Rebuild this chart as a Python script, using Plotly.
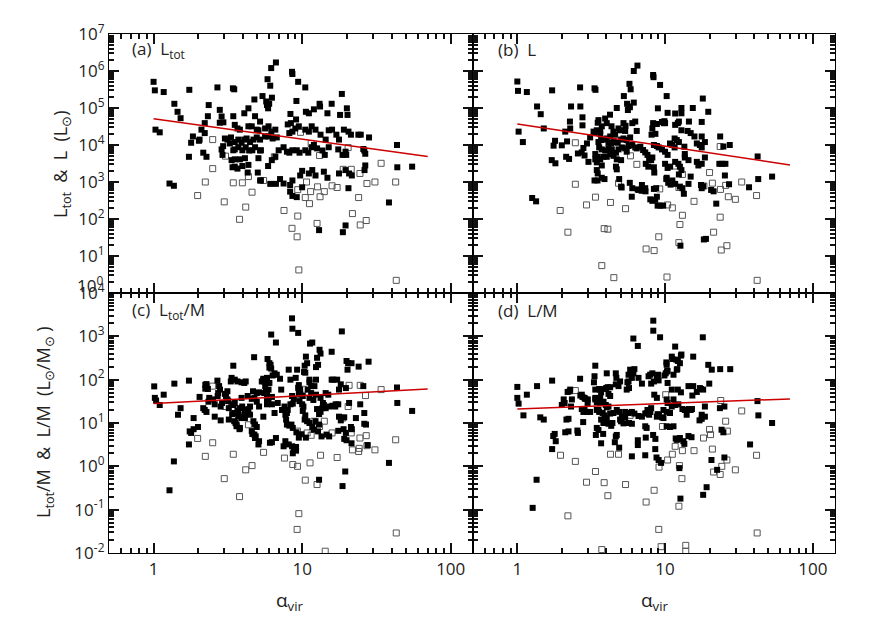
import plotly.graph_objects as go

# ---------------- values ----------------
# (alpha_vir, value) pairs; filled = black squares, open = hollow squares

a_filled = [
    (1.0, 5.1e5), (1.02, 3.0e5), (1.17, 2.7e5), (1.03, 2.6e4), (1.1, 2.2e4), (1.38, 1.3e5), (1.45, 7.9e4),
    (1.52, 5.3e4), (1.28, 910), (1.37, 790), (1.74, 3.1e5), (1.73, 4800), (2.02, 1.3e4), (2.16, 6200),
    (2.27, 4800), (2.69, 3.6e5), (2.91, 5400), (3.42, 3.4e5), (3.49, 3.2e5), (4.3, 1800), (5.85, 6.0e5),
    (6.1, 4.0e5), (6.19, 1.2e6), (6.66, 1.7e6), (6.26, 1.9e5), (7.5, 910), (8.55, 9.5e5), (8.6, 8.3e5),
    (9.4, 5.1e5), (10.5, 3.6e5), (10.6, 7.9e4), (13.2, 1.1e5), (13.0, 50), (18.5, 2.4e5), (18.0, 6.5e4),
    (18.8, 44), (19.6, 67), (20.5, 680), (21.6, 1500), (23.9, 1.9e4), (24.8, 1.9e4), (25.8, 7800),
    (26.2, 7100), (26.6, 5800), (28.2, 1.6e4), (26.6, 2800), (26.3, 2100), (38.4, 280), (43.5, 1.0e4),
    (43.7, 2500), (55, 2600),
    (2.35, 1.2e5), (2.79, 8.9e4), (2.87, 5.9e4), (2.32, 6.0e4), (4.77, 1.7e5), (5.41, 2.1e5), (5.73, 1.5e5),
    (5.8, 1.2e5), (6.0, 1.3e5), (5.9, 9.8e4), (9.15, 1.55e5), (8.34, 6.9e4), (13.1, 1.3e5), (15.8, 1.3e5),
    (20, 9.8e4), (14.8, 7.2e4), (11.1, 7.2e4), (12, 9.2e4), (20.2, 6.5e4), (9.1, 4.9e4), (8.0, 3.6e4),
    (8.4, 3.9e4), (2.21, 3.9e4), (2.79, 4.0e4), (2.95, 4.1e4), (3.44, 6.0e4), (4.08, 7.2e4), (4.35, 9.8e4),
    (4.82, 6.0e4), (5.21, 4.3e4), (3.52, 3.5e4), (3.67, 2.8e4), (3.81, 2.6e4), (4.35, 3.2e4), (4.58, 3.2e4),
    (4.95, 2.6e4), (5.08, 2.5e4), (5.63, 2.8e4), (5.94, 3.2e4), (6.2, 2.3e4), (6.6, 2.6e4), (2.1, 2.6e4),
    (2.21, 2.1e4), (1.84, 1.7e4), (2.04, 1.4e4), (1.79, 1.15e4), (3.02, 1.5e4), (3.14, 1.4e4), (3.32, 1.6e4),
    (3.26, 1.1e4), (3.52, 1.2e4), (3.72, 1.4e4), (3.91, 1.15e4), (4.08, 1.4e4), (4.23, 1.5e4), (4.46, 1.2e4),
    (4.7, 1.4e4), (4.95, 1.6e4), (5.21, 1.4e4), (5.63, 1.7e4), (5.94, 1.7e4), (6.33, 1.5e4), (6.75, 1.6e4),
    (8.2, 2.1e4), (8.6, 2.3e4), (9.0, 2.8e4), (9.5, 3.2e4), (10.5, 2.6e4), (11.1, 2.3e4), (11.6, 3.2e4),
    (12.3, 2.6e4), (13.3, 1.9e4), (14.4, 1.4e4), (15.1, 2.5e4), (15.9, 2.6e4), (17, 1.9e4), (17.7, 1.4e4),
    (19.1, 2.6e4), (20.5, 2.3e4), (21.3, 1.9e4), (3.44, 7200), (3.52, 7600), (3.72, 8700), (3.96, 7200),
    (4.17, 8700), (4.4, 7100), (4.62, 7200), (4.82, 8700), (5.21, 7100), (2.94, 9300), (2.87, 7600),
    (5.28, 7200), (6.95, 7200), (7.5, 8700), (7.9, 6600), (8.2, 6200), (8.6, 7200), (9.2, 7200), (9.6, 6200),
    (10.5, 7200), (11, 6200), (11.6, 8700), (12, 1.0e4), (12.6, 8100), (13.7, 7100), (14.2, 5400),
    (15.1, 8700), (17.5, 7600), (18.7, 5400), (19.6, 6600), (19.8, 5400), (3.35, 3900), (3.52, 4100),
    (3.81, 4100), (4.12, 4400), (5.08, 4400), (5.9, 2700), (6.25, 3900), (6.6, 4800), (3.4, 2500),
    (3.52, 2600), (3.67, 2300), (3.96, 2700), (4.35, 2900), (5.03, 1800), (5.21, 1100), (5.28, 1100),
    (6.1, 890), (6.66, 890), (7.1, 1200), (8.3, 830), (8.6, 1100), (9.7, 1500), (10, 2000), (11.1, 1700),
    (11.7, 2100), (12.3, 1500), (14, 1900), (14.8, 1300), (17.7, 1700), (19.6, 2100), (20.7, 1700),
    (8.3, 550), (8.6, 420), (9.2, 390), (10, 720),
]
a_open = [
    (1.98, 430), (2.23, 1000), (2.5, 2300), (2.5, 1.4e4), (2.99, 290), (3.05, 5000), (3.44, 950), (3.79, 98),
    (3.96, 950), (4.17, 210), (4.35, 1400), (4.6, 530), (5.5, 1100), (6.5, 4800), (7.55, 170), (8.55, 56),
    (9.25, 33), (9.34, 120), (9.34, 620), (9.5, 4.2), (9.75, 2.2e4), (10.5, 380), (10.7, 1000), (11.4, 550),
    (11.2, 260), (11.5, 1.1e4), (12.6, 76), (12.7, 740), (13.1, 5200), (13.2, 400), (14.1, 550), (15.9, 790),
    (17.2, 710), (18.9, 2200), (20.4, 8500), (21.4, 2200), (21.8, 140), (24, 380), (24.5, 1700), (24.6, 69),
    (27, 91), (27.3, 910), (30.9, 1000), (34, 3200), (42.6, 1000), (43, 2.2),
]

b_filled = [
    (1.0, 5.2e5), (1.01, 2.9e5), (1.16, 2.7e5), (1.02, 2.3e4), (1.09, 1.2e4), (1.36, 1.1e5), (1.44, 6.8e4),
    (1.51, 2.8e4), (1.26, 370), (1.34, 300), (1.72, 3.0e5), (1.71, 3900), (1.76, 9600), (1.81, 3200),
    (1.80, 1.3e4), (2.0, 9800), (2.14, 4800), (2.24, 4200), (2.11, 2.3e4), (2.27, 4.3e4), (2.31, 1.1e5),
    (2.57, 5900), (2.66, 3.6e5), (2.67, 1.1e5), (2.76, 5.6e4), (2.76, 3.4e4), (2.85, 5200), (2.96, 1.1e4),
    (3.03, 3500), (3.33, 3.4e5), (3.38, 3.1e5), (3.33, 1100), (3.49, 1100), (3.5, 4.0e4), (3.73, 3.2e4),
    (3.93, 5.2e4), (4.24, 6.6e4), (4.34, 3.2e4), (4.71, 1.0e5), (4.89, 1200), (5.08, 710), (5.26, 2.1e5),
    (5.53, 1.3e5), (5.68, 1.1e5), (5.74, 4.5e5), (5.85, 3.2e5), (6.14, 1.0e6), (6.5, 1.4e6), (6.14, 1.4e5),
    (5.77, 950), (5.95, 400), (6.53, 630), (6.95, 580), (7.37, 560), (7.94, 340), (8.2, 310), (8.3, 7.8e5),
    (8.35, 6.8e5), (8.9, 230), (9.3, 230), (9.7, 230), (9.25, 4.2e5), (8.94, 9.8e4), (8.45, 1800), (8.7, 680),
    (10.25, 2.1e5), (10.4, 7.4e4), (10.2, 1200), (10.5, 950), (10.9, 850), (11.7, 7.1e4), (12.4, 4.3e4),
    (12.9, 1.0e5), (12.7, 19), (13.4, 480), (12.4, 1600), (13.6, 4600), (15.4, 1.0e5), (18.0, 1.8e5),
    (19.6, 7.9e4), (18.3, 28), (18.9, 29), (17.5, 830), (18.6, 4600), (20.5, 610), (21.3, 560), (22.2, 260),
    (23.6, 1.7e4), (24.8, 9100), (25.4, 1500), (23.3, 3100), (24.3, 3100), (25.6, 3100), (27.1, 870),
    (27.4, 1.0e4), (37, 720), (42.3, 4900), (42.7, 1200), (53, 1400),
    (2.28, 2.8e4), (2.17, 1.25e4), (2.73, 6300), (2.8, 8300), (3.11, 1.6e4), (3.28, 2.3e4), (3.45, 2.5e4),
    (3.64, 2.4e4), (3.54, 4.7e4), (4.03, 3.9e4), (5.6, 8.8e4), (5.78, 1.05e5), (12.9, 7.2e4), (17.7, 4.2e4),
    (9.52, 4.2e4), (9.8, 3.9e4), (8.3, 3.9e4), (8.8, 3.7e4), (8.2, 2.8e4), (8.6, 2.0e4), (8.1, 1.9e4),
    (6.28, 4.3e4), (6.0, 3.9e4), (5.23, 3.9e4), (5.4, 3.3e4), (4.84, 2.8e4), (4.96, 2.5e4), (6.43, 2.4e4),
    (5.37, 2.4e4), (4.59, 1.9e4), (4.47, 2.3e4), (4.25, 1.7e4), (4.03, 1.5e4), (3.64, 2.0e4), (3.33, 2.1e4),
    (3.54, 1.2e4), (3.69, 1.36e4), (3.89, 1.4e4), (4.14, 1.15e4), (4.32, 1.1e4), (4.5, 1.2e4), (4.78, 1.15e4),
    (5.04, 1.4e4), (5.23, 1.5e4), (5.5, 1.36e4), (5.8, 1.6e4), (3.58, 8600), (3.73, 7600), (3.93, 7100),
    (4.14, 8100), (4.36, 7600), (4.65, 6200), (4.84, 7600), (5.1, 8600), (5.37, 8100), (5.66, 9400),
    (6.0, 1.0e4), (6.28, 8600), (3.37, 5700), (3.5, 4800), (3.64, 4100), (3.83, 4800), (4.03, 4800),
    (4.25, 5700), (4.47, 5100), (4.71, 4100), (5.04, 3900), (3.37, 4100), (3.45, 3400), (3.73, 2800),
    (4.65, 2600), (5.5, 6600), (6.43, 8100), (6.8, 9000), (7.1, 7300), (7.34, 6300), (7.6, 5400), (7.8, 4400),
    (8.05, 3900), (8.2, 4600), (9.04, 8600), (9.52, 7600), (10.0, 6600), (10.4, 5400), (10.8, 1.1e4),
    (11.2, 1.0e4), (11.6, 8600), (12.0, 1.36e4), (12.4, 1.2e4), (11.6, 1.5e4), (8.4, 1.0e4), (8.8, 9400),
    (9.9, 4.4e4), (10.0, 3.9e4), (11.7, 3.5e4), (12.2, 3.9e4), (12.9, 2.5e4), (14.5, 4.3e4), (14.2, 2.4e4),
    (14.9, 2.1e4), (15.8, 1.7e4), (16.4, 1.1e4), (17.7, 1.7e4), (17.2, 1.0e4), (17.7, 8600), (18.6, 1.2e4),
    (13.5, 9000), (13.6, 5700), (14.4, 3900), (16.4, 3500), (16.8, 2800), (17.7, 3100), (11.7, 3500),
    (12.3, 3100), (12.6, 2600), (12.9, 2100), (10.0, 3100), (10.4, 2400), (10.8, 2600), (7.4, 3100),
    (7.7, 2600), (8.4, 2500), (4.71, 2200), (3.45, 2100), (3.5, 1700), (3.73, 1300), (3.89, 1200), (5.04, 750),
    (6.0, 680), (6.97, 830), (7.34, 680), (8.4, 650), (8.8, 400), (6.61, 610), (10.25, 1300), (10.8, 1000),
    (11.2, 1100), (11.7, 890), (12.6, 750), (13.1, 680), (14.4, 890), (17.7, 680), (18.1, 770), (14.9, 1400),
    (8.58, 330),
]
b_open = [
    (2.47, 1.15e4), (2.47, 870), (1.95, 170), (2.2, 44), (2.94, 240), (3.38, 390), (3.73, 5.5), (3.87, 55),
    (4.1, 53), (4.27, 280), (4.5, 2.6), (4.84, 930), (5.4, 190), (5.83, 5100), (6.44, 3000), (7.44, 15.5),
    (8.43, 14), (9.2, 650), (9.06, 33), (10.3, 2.7), (10.4, 240), (11.2, 200), (11.8, 2700), (12.4, 710),
    (12.6, 71), (12.4, 23), (13.1, 126), (13.1, 1600), (15.7, 300), (18.3, 780), (20, 1800), (20.9, 930),
    (21.3, 44), (23.6, 9100), (23.6, 112), (24, 14.5), (23.7, 630), (25.7, 810), (26.2, 19), (26.8, 400),
    (29.9, 340), (33, 1000), (41.6, 430), (42, 2.2),
]

c_filled = [
    (1.01, 70), (1.02, 38), (1.04, 33), (1.1, 26), (1.17, 45), (1.38, 81), (1.46, 15.5), (1.52, 22),
    (1.28, 0.28), (1.37, 1.3), (1.73, 95), (1.73, 3.2), (1.79, 5.9), (1.86, 13), (1.86, 7.2), (1.99, 8.1),
    (2.04, 40), (2.16, 22), (2.23, 76), (2.23, 62), (2.27, 18), (2.37, 38), (2.34, 31), (2.58, 14), (2.69, 95),
    (2.7, 42), (2.76, 71), (2.8, 59), (2.83, 24), (2.89, 29), (3.02, 47), (3.07, 42), (3.14, 54), (3.21, 12),
    (3.31, 91), (3.35, 110), (3.44, 210), (3.46, 26), (3.49, 17), (3.56, 10), (3.62, 8.4), (3.71, 17),
    (3.79, 7.2), (3.91, 38), (4.08, 15.5), (4.12, 13), (4.08, 84), (4.25, 20), (4.3, 42), (4.46, 15.5),
    (4.58, 6.5), (4.62, 5.6), (4.67, 54), (4.75, 330), (4.82, 4.5), (5.08, 3.2), (4.95, 31), (5.13, 24),
    (5.48, 105), (5.56, 91), (5.64, 71), (5.7, 54), (5.8, 35), (5.8, 27), (5.85, 300), (6.02, 190),
    (6.13, 220), (6.07, 3.5), (6.26, 27), (6.19, 1100), (6.66, 720), (6.33, 125), (6.52, 140), (6.52, 17),
    (6.66, 4.5), (6.85, 29), (7.1, 105), (7.23, 59), (7.5, 2.9), (7.71, 15.5), (7.8, 12), (8.0, 20),
    (8.12, 170), (8.34, 100), (8.47, 9.2), (8.65, 7.7), (8.56, 2.9), (8.65, 2.0), (8.55, 2600), (8.6, 1500),
    (9.25, 170), (9.1, 2.3), (9.15, 6.1), (9.4, 1200), (9.5, 75), (9.7, 59), (9.6, 32), (10.0, 27),
    (10.1, 42), (10.2, 24), (10.4, 210), (10.5, 145), (10.6, 340), (10.9, 59), (11.3, 680), (11.7, 720),
    (11.2, 100), (11.5, 49), (12.3, 11), (13.0, 9.2), (12.1, 71), (12.4, 100), (12.6, 320), (13.1, 490),
    (13.3, 400), (13.0, 0.49), (13.3, 38), (13.7, 22), (13.8, 29), (14.4, 49), (15.0, 45), (15.2, 24),
    (15.8, 440), (16.2, 100), (16.7, 24), (17.5, 27), (18.5, 1300), (17.5, 6.6), (17.7, 59), (18.7, 0.35),
    (19.5, 0.76), (19.7, 64), (20.2, 170), (20.7, 29), (21.3, 8.1), (21.5, 240), (19.9, 270), (21.5, 3.4),
    (21.6, 7.2), (23, 13), (24, 200), (24.6, 27), (25.8, 71), (26.2, 17), (26.2, 9.6), (26.9, 9.2),
    (27.6, 3.1), (28, 260), (38.4, 1.2), (43.5, 66), (43.7, 29), (55, 19),
    (3.52, 100), (3.67, 91), (3.91, 87), (4.17, 91), (2.27, 79), (2.32, 61), (1.75, 6.4), (2.21, 20),
    (2.83, 11.5), (2.72, 49), (3.14, 35), (3.18, 32), (3.21, 22), (3.38, 27), (3.52, 29), (2.51, 35),
    (2.58, 27), (3.38, 16), (3.52, 17), (3.67, 19), (3.81, 22), (3.95, 24), (3.71, 14), (3.91, 13),
    (4.08, 14), (3.49, 11), (3.62, 9.2), (3.81, 7.7), (4.12, 18), (4.35, 21), (4.46, 24), (4.58, 36),
    (4.77, 38), (4.95, 49), (5.13, 51), (5.35, 91), (5.48, 100), (5.8, 110), (6.02, 84), (5.94, 59),
    (5.56, 49), (5.8, 45), (5.94, 36), (6.26, 40), (4.7, 11), (4.82, 9.2), (4.95, 8.1), (4.77, 5.4),
    (4.87, 4.9), (5.13, 3.8), (5.48, 14), (6.02, 240), (6.19, 180), (6.75, 130), (7.32, 20), (7.61, 24),
    (7.9, 17), (7.9, 9.2), (8.2, 8.7), (7.71, 3.8), (9.05, 110), (9.4, 65), (10.8, 240), (10.3, 150),
    (11.2, 87), (11.5, 71), (12.4, 195), (12.8, 220), (11.2, 38), (11.9, 34), (12.4, 45), (9.5, 49),
    (9.7, 45), (8.56, 42), (8.8, 36), (8.34, 27), (8.65, 28), (10.1, 19), (10.5, 15), (10.4, 12), (10.8, 11),
    (11.2, 10), (12.6, 21), (13.0, 16), (13.3, 18), (14.0, 26), (14.4, 22), (16.0, 25), (16.8, 27),
    (15.8, 100), (17.2, 100), (18.2, 78), (20.4, 240), (17.7, 14), (18.2, 11.5), (19.2, 13.5), (14.6, 5.4),
    (15.2, 4.9), (11.7, 8.1), (12.0, 7.0), (12.8, 6.4), (13.5, 4.9), (9.5, 4.6), (9.9, 5.5), (10.6, 4.6),
    (19.0, 7.2), (19.7, 5.9), (19.2, 4.3), (19.9, 4.0), (8.12, 3.2), (8.8, 2.5), (9.1, 2.8), (6.26, 3.6),
]
c_open = [
    (1.98, 4.4), (2.23, 1.7), (2.5, 3.5), (2.5, 71), (2.99, 0.52), (3.05, 24), (3.44, 1.9), (3.79, 0.2),
    (4.17, 0.83), (4.35, 9.1), (4.6, 1.04), (5.5, 2.1), (7.6, 1.55), (8.65, 1.1), (9.3, 6.5), (9.3, 1.0),
    (9.5, 0.081), (9.25, 0.035), (10.2, 60), (10.5, 0.48), (10.8, 5.9), (11.3, 1.2), (11.5, 5.2), (12, 11),
    (12.6, 0.38), (13.1, 8.3), (13.3, 1.8), (14.1, 11), (14.3, 0.011), (15.9, 5.9), (17.2, 1.6), (18.7, 13),
    (20.4, 24), (20.7, 74), (21.4, 5.9), (21.8, 2.4), (24, 2.2), (24.5, 4.5), (24.6, 74), (24.2, 2.6),
    (26.7, 43), (27, 5.1), (27.3, 3.0), (30.9, 2.4), (34, 59), (42.6, 4.1), (43, 0.029),
]

d_filled = [
    (1.0, 68), (1.0, 38), (1.02, 28), (1.1, 15), (1.16, 45), (1.36, 71), (1.43, 13.5), (1.51, 12),
    (1.27, 0.11), (1.35, 0.49), (1.72, 95), (1.72, 2.5), (1.75, 5.0), (1.79, 5.6), (1.82, 3.8), (2.0, 26),
    (2.06, 35), (2.15, 12), (2.22, 12.5), (2.19, 52), (2.26, 54), (2.34, 35), (2.31, 24), (2.55, 6.7),
    (2.66, 105), (2.67, 43), (2.76, 40), (2.85, 38), (2.85, 20), (2.99, 29), (2.79, 10.5), (3.33, 120),
    (3.3, 87), (3.37, 59), (3.37, 35), (3.45, 30), (3.4, 5.3), (3.54, 20), (3.62, 59), (3.64, 38),
    (3.69, 3.4), (3.81, 5.6), (3.85, 10), (3.99, 64), (4.03, 23), (4.03, 140), (4.25, 67), (4.4, 10),
    (4.57, 3.6), (4.71, 5.3), (4.68, 110), (4.84, 71), (4.89, 2.7), (4.96, 12), (5.06, 11), (5.23, 9.8),
    (5.37, 18), (5.5, 59), (5.56, 87), (5.66, 130), (5.8, 170), (5.96, 1.7), (6.1, 890), (6.54, 600),
    (6.54, 3.1), (6.61, 110), (7.34, 1.8), (7.4, 4.6), (7.5, 17), (7.8, 15.5), (7.95, 18), (7.73, 120),
    (7.93, 130), (8.05, 81), (8.32, 2300), (8.32, 1350), (8.45, 45), (8.8, 38), (8.9, 16), (8.58, 2.5),
    (8.75, 1.6), (9.04, 1.4), (8.8, 110), (9.04, 96), (9.25, 950), (9.4, 1.2), (9.9, 125), (10.1, 140),
    (10.4, 84), (10.2, 250), (10.3, 155), (10.25, 35), (10.4, 29), (11.1, 59), (11.4, 35), (11.7, 580),
    (11.1, 340), (11.8, 4.4), (12.2, 4.2), (11.9, 290), (12.1, 175), (12.9, 380), (12.7, 0.18), (12.5, 0.91),
    (13.5, 3.3), (13.6, 20), (14.0, 15.5), (15.5, 340), (15.5, 71), (15.3, 43), (14.5, 21), (14.9, 20),
    (17.1, 11.5), (17.7, 12.5), (18.0, 950), (17.5, 61), (18.1, 0.22), (19.1, 0.33), (18.6, 24), (19.9, 81),
    (20.7, 170), (20.6, 1.4), (22.5, 0.83), (23.6, 175), (23.5, 22), (24.1, 7.0), (24.8, 6.1), (25.2, 24),
    (25.2, 1.6), (27.6, 175), (37.6, 3.2), (42.2, 32), (42.8, 15), (53, 10),
    (2.09, 29), (2.11, 6.1), (2.22, 6.4), (2.57, 5.9), (2.73, 45), (2.88, 36), (3.0, 35), (2.96, 18),
    (2.28, 59), (3.37, 210), (3.58, 61), (3.69, 51), (3.93, 61), (4.09, 67), (4.14, 47), (4.25, 42),
    (4.64, 140), (4.64, 78), (4.96, 91), (5.66, 91), (5.96, 110), (6.2, 175), (6.1, 140), (5.7, 64),
    (6.97, 81), (8.2, 140), (8.4, 91), (8.95, 130), (11.2, 300), (12.2, 270), (12.6, 240), (12.0, 170),
    (12.8, 360), (10.25, 220), (10.4, 160), (11.4, 130), (19.6, 220), (17.2, 64), (18.1, 59), (14.4, 71),
    (16.4, 52), (12.2, 59), (12.8, 51), (3.37, 38), (3.54, 35), (3.64, 29), (3.83, 31), (3.97, 26),
    (4.14, 24), (2.73, 21), (2.8, 18), (3.11, 18), (3.45, 20), (3.58, 18), (3.78, 17), (3.89, 15),
    (3.69, 12), (3.83, 10), (4.03, 13), (4.25, 16.5), (4.47, 17), (4.71, 20), (4.89, 18), (5.1, 14),
    (5.37, 13.5), (5.66, 17), (5.96, 18), (6.2, 16.5), (5.04, 11), (4.14, 9.6), (4.32, 8.6), (4.64, 4.9),
    (5.7, 10), (5.96, 9.6), (6.61, 14.5), (6.97, 14), (7.34, 16.5), (7.6, 20), (8.05, 22), (8.8, 14),
    (9.1, 15.5), (9.52, 13.5), (9.75, 20), (10.25, 18), (10.8, 17), (11.1, 24), (11.7, 26), (12.3, 27),
    (13.1, 21), (15.2, 21), (17.7, 15.5), (18.6, 14), (10.25, 8.4), (10.8, 8.1), (11.4, 8.4), (9.75, 13),
    (7.34, 8.4), (7.5, 7.7), (8.3, 5.3), (8.6, 4.3), (12.0, 4.1), (12.6, 4.5), (13.3, 3.8), (14.4, 5.0),
    (15.1, 4.7), (6.54, 4.0), (3.45, 7.7), (3.54, 6.9),
]
d_open = [
    (2.47, 56), (1.96, 1.8), (2.2, 0.072), (2.47, 1.3), (2.94, 0.43), (3.38, 0.76), (3.73, 0.012),
    (3.87, 0.42), (4.1, 0.21), (4.27, 1.9), (4.84, 1.9), (5.4, 0.38), (5.8, 15), (7.44, 0.15), (8.43, 0.28),
    (9.1, 0.96), (9.06, 0.035), (9.4, 0.014), (9.6, 8.3), (10.1, 45), (10.4, 1.4), (11.2, 1.9), (11.7, 2.9),
    (12.4, 0.12), (12.5, 1.04), (13, 0.52), (13.1, 2.3), (13.8, 0.015), (13.8, 0.011), (15.7, 2.3),
    (18.2, 4.5), (20, 7.1), (20.3, 5.4), (20.9, 2.5), (21.3, 0.74), (23.8, 33), (23.6, 0.65), (24.2, 1.0),
    (25.7, 11), (26.2, 1.4), (26.4, 6.5), (29.9, 0.83), (33, 19), (41.6, 1.8), (42, 0.029),
]

# red fitted lines (end points)
fit_alpha = [1, 70]
fit_a = [5.1e4, 4.9e3]
fit_b = [3.7e4, 2.9e3]
fit_c = [28, 61]
fit_d = [21, 36]

top_ticks = [1, 10, 100, 1e3, 1e4, 1e5, 1e6, 1e7]
top_text = [''] + ['10<sup>%d</sup>' % i for i in range(1, 8)]   # 10^0 placed by hand below
bot_ticks = [1e-2, 1e-1, 1, 10, 100, 1e3, 1e4]
bot_text = ['10<sup>%d</sup>' % i for i in range(-2, 5)]
x_ticks = [1, 10, 100]
x_text = ['1', '10', '100']

# minor tick positions (2..9 in every decade)
x_minor = [m * 10.0 ** e for e in (-1, 0, 1, 2) for m in range(2, 10) if 0.5 < m * 10.0 ** e < 141]
top_minor = [m * 10.0 ** e for e in range(0, 7) for m in range(2, 10)]
bot_minor = [m * 10.0 ** e for e in range(-2, 4) for m in range(2, 10)]

# ---------------- figure ----------------
TXT = '#222'
fig = go.Figure()

panels = [
    ('x', 'y', a_filled, a_open, fit_a),
    ('x2', 'y2', b_filled, b_open, fit_b),
    ('x3', 'y3', c_filled, c_open, fit_c),
    ('x4', 'y4', d_filled, d_open, fit_d),
]
for xa, ya, filled, hollow, fit in panels:
    fig.add_trace(go.Scatter(x=[p[0] for p in hollow], y=[p[1] for p in hollow], mode='markers',
                             xaxis=xa, yaxis=ya,
                             marker=dict(symbol='square-open', size=6, color='#555',
                                         line=dict(width=1, color='#555'))))
    fig.add_trace(go.Scatter(x=[p[0] for p in filled], y=[p[1] for p in filled], mode='markers',
                             xaxis=xa, yaxis=ya,
                             marker=dict(symbol='square', size=6, color='black')))
    fig.add_trace(go.Scatter(x=fit_alpha, y=fit, mode='lines', xaxis=xa, yaxis=ya,
                             line=dict(color='#cc0000', width=1.5)))

# page body has an 8px margin, so the figure is 8px smaller and margins shifted
OFF = 8
W, H = 872 - OFF, 623 - OFF
L, T = 109 - OFF, 34 - OFF
R = W - L - 726
B = H - T - 519
split_x = 364 / 726
split_y = 260 / 519
XR = [-0.3, 2.15]
TOPR = [0, 7]
BOTR = [-2, 4]

# same axis recipe as the tick test that rendered: array ticks + array minor ticks
def ax(domain, anchor, rng, tv, tt, mv, labels):
    return dict(type='log', range=rng, domain=domain, anchor=anchor, automargin=False,
                showgrid=False, zeroline=False, showline=True, linecolor='black', linewidth=1.3,
                mirror='allticks', ticks='inside', ticklen=10, tickcolor='#111111', tickwidth=1.5,
                tickmode='array', tickvals=tv, ticktext=tt, showticklabels=labels,
                tickfont=dict(size=17, color=TXT),
                minor=dict(tickmode='array', tickvals=mv, ticks='inside', ticklen=5,
                           tickcolor='#111111', tickwidth=1.5))

fig.update_layout(
    width=W, height=H, margin=dict(l=L, r=R, t=T, b=B),
    paper_bgcolor='white', plot_bgcolor='white', showlegend=False,
    font=dict(color=TXT),
    xaxis=ax([0, split_x], 'y', XR, x_ticks, x_text, x_minor, False),
    yaxis=ax([split_y, 1], 'x', TOPR, top_ticks, top_text, top_minor, True),
    xaxis2=ax([split_x, 1], 'y2', XR, x_ticks, x_text, x_minor, False),
    yaxis2=ax([split_y, 1], 'x2', TOPR, top_ticks, top_text, top_minor, False),
    xaxis3=ax([0, split_x], 'y3', XR, x_ticks, x_text, x_minor, True),
    yaxis3=ax([0, split_y], 'x3', BOTR, bot_ticks, bot_text, bot_minor, True),
    xaxis4=ax([split_x, 1], 'y4', XR, x_ticks, x_text, x_minor, True),
    yaxis4=ax([0, split_y], 'x4', BOTR, bot_ticks, bot_text, bot_minor, False),
)

# helpers: page pixel (reference image) -> paper coordinates
def px(x):
    return (x - OFF - L) / 726

def py(y):
    return (H - B - (y - OFF)) / 519

def note(text, x, y, size, xanchor='center', angle=0):
    fig.add_annotation(text=text, x=px(x), y=py(y), xref='paper', yref='paper',
                       xanchor=xanchor, yanchor='middle', textangle=angle, showarrow=False,
                       font=dict(size=size, color=TXT))

note('(a)  L<sub>tot</sub>', 130, 50, 17, 'left')
note('(b)  L', 496, 50, 17, 'left')
note('(c)  L<sub>tot</sub>/M', 130, 310, 17, 'left')
note('(d)  L/M', 496, 310, 17, 'left')
note('10<sup>0</sup>', 105, 284, 17, 'right')

note('L<sub>tot</sub>  &  L  (L<sub>⊙</sub>)', 62, 164, 18, angle=-90)
note('L<sub>tot</sub>/M  &  L/M  (L<sub>⊙</sub>/M<sub>⊙</sub> )', 45, 422, 18, angle=-90)
note('α<sub>vir</sub>', 290, 601, 19)
note('α<sub>vir</sub>', 655, 601, 19)

fig.write_html('out.html')
